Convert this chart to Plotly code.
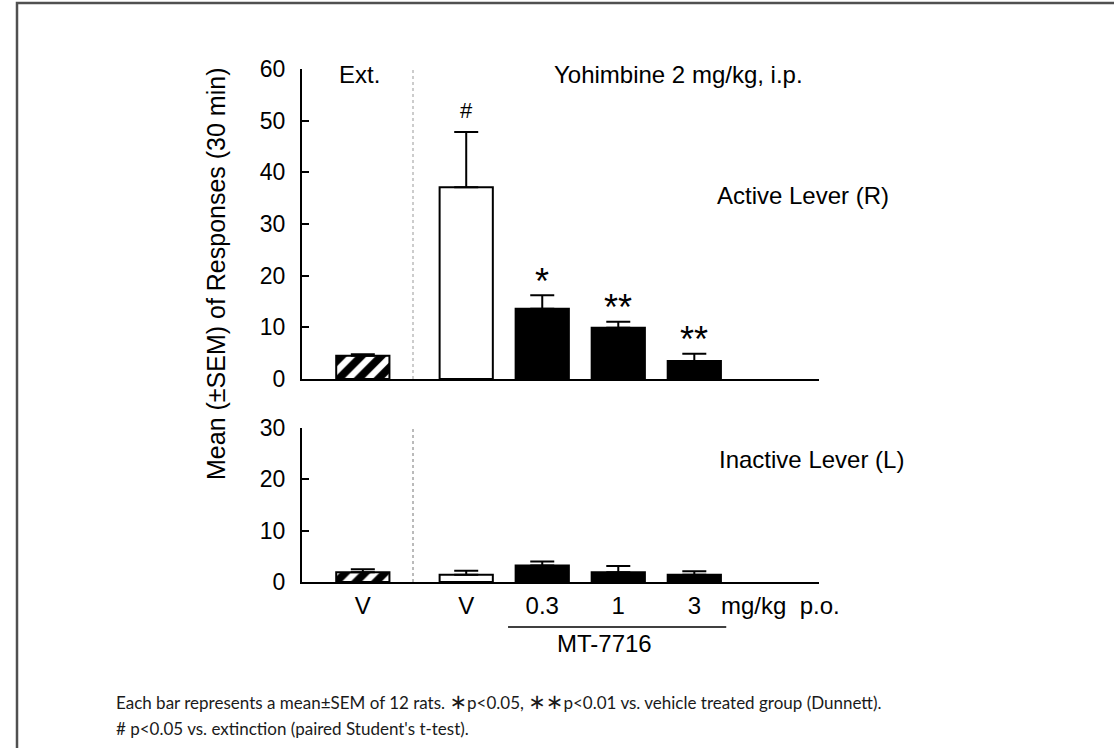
import plotly.graph_objects as go

# ---- data -----------------------------------------------------------------
group_labels = ["V", "V", "0.3", "1", "3"]
active_mean = [4.5, 37.1, 13.6, 9.9, 3.5]
active_sem = [0.3, 10.7, 2.6, 1.2, 1.4]
inactive_mean = [1.9, 1.4, 3.2, 1.9, 1.4]
inactive_sem = [0.6, 0.8, 0.8, 1.2, 0.7]
active_marks = ["", "#", "*", "**", "**"]

# ---- layout helpers --------------------------------------------------------
W, H = 1114, 748
group_x = [0.0, 1.36, 2.36, 3.36, 4.36]   # x position of each bar
BAR_W = 0.70
SEP_X = 0.66                              # dotted line between Ext. and Yohimbine
FONT = "Liberation Sans, Arial, sans-serif"
NOTE_FONT = "Lato, Calibri, sans-serif"


def px(x):
    return x / W


def py(y):
    return 1 - y / H


fig = go.Figure()

panels = [("x", "y", active_mean, active_sem), ("x2", "y2", inactive_mean, inactive_sem)]
for xa, ya, means, sems in panels:
    # Extinction vehicle: hatched bar
    fig.add_trace(go.Bar(
        x=[group_x[0]], y=[means[0]], width=BAR_W, xaxis=xa, yaxis=ya,
        marker=dict(color="black", line=dict(color="black", width=2),
                    pattern=dict(shape="/", bgcolor="black", fgcolor="white",
                                 size=14, solidity=0.45)),
        error_y=dict(type="data", symmetric=False, array=[sems[0]], arrayminus=[0],
                     color="black", thickness=2, width=12),
        showlegend=False, hoverinfo="skip"))
    # Yohimbine vehicle: open bar
    fig.add_trace(go.Bar(
        x=[group_x[1]], y=[means[1]], width=BAR_W, xaxis=xa, yaxis=ya,
        marker=dict(color="white", line=dict(color="black", width=2)),
        error_y=dict(type="data", symmetric=False, array=[sems[1]], arrayminus=[0],
                     color="black", thickness=2, width=12),
        showlegend=False, hoverinfo="skip"))
    # MT-7716 doses: filled bars
    fig.add_trace(go.Bar(
        x=group_x[2:], y=means[2:], width=BAR_W, xaxis=xa, yaxis=ya,
        marker=dict(color="black", line=dict(color="black", width=2)),
        error_y=dict(type="data", symmetric=False, array=sems[2:], arrayminus=[0] * 3,
                     color="black", thickness=2, width=12),
        showlegend=False, hoverinfo="skip"))

annotations = []

# significance marks above the active-lever bars
for xv, m, s, mark in zip(group_x, active_mean, active_sem, active_marks):
    if not mark:
        continue
    if mark == "#":
        annotations.append(dict(x=xv, y=m + s, xref="x", yref="y", text="#",
                                showarrow=False, yanchor="middle", yshift=22,
                                font=dict(size=22, family=FONT, color="black")))
    else:
        annotations.append(dict(x=xv, y=m + s, xref="x", yref="y", text=mark,
                                showarrow=False, yanchor="middle", yshift=14,
                                font=dict(size=36, family=FONT, color="black")))

txt = dict(showarrow=False, xref="paper", yref="paper",
           font=dict(size=24, family=FONT, color="black"))
annotations += [
    dict(text="Ext.", x=px(337), y=py(75), xanchor="left", yanchor="middle", **txt),
    dict(text="Yohimbine 2 mg/kg, i.p.", x=px(552), y=py(75), xanchor="left",
         yanchor="middle", **txt),
    dict(text="Active Lever (R)", x=px(715), y=py(195), xanchor="left",
         yanchor="middle", **txt),
    dict(text="Inactive Lever (L)", x=px(717), y=py(459), xanchor="left",
         yanchor="middle", **txt),
    dict(text="mg/kg\u00a0\u00a0p.o.", x=px(719), y=py(605), xanchor="left",
         yanchor="middle", **txt),
    dict(text="MT-7716", x=px(604), y=py(643), xanchor="center",
         yanchor="middle", **txt),
    dict(text="Mean (\u00b1SEM) of Responses (30 min)", x=px(216), y=py(274),
         xanchor="center", yanchor="middle", textangle=-90, showarrow=False,
         xref="paper", yref="paper",
         font=dict(size=25, family=FONT, color="black")),
]

star = "<span style='font-family:DejaVu Sans; font-size:21px'>\u2217</span>"
note = dict(showarrow=False, xref="paper", yref="paper", xanchor="left",
            yanchor="middle", font=dict(size=17, family=NOTE_FONT, color="#1a1a1a"))
annotations += [
    dict(text="Each bar represents a mean\u00b1SEM of 12 rats. " + star + "p&lt;0.05, "
         + star + star + "p&lt;0.01 vs. vehicle treated group (Dunnett).",
         x=px(114), y=py(702), **note),
    dict(text="# p&lt;0.05 vs. extinction (paired Student's t-test).",
         x=px(114), y=py(728), **note),
]

shapes = [
    # outer frame
    dict(type="rect", xref="paper", yref="paper", x0=px(17), x1=px(1125),
         y0=py(3), y1=py(770), line=dict(color="#505050", width=2.5),
         fillcolor="rgba(0,0,0,0)", layer="below"),
    # dotted separators
    dict(type="line", xref="x", yref="y", x0=SEP_X, x1=SEP_X, y0=0, y1=60,
         line=dict(color="#999999", width=1, dash="dot")),
    dict(type="line", xref="x2", yref="y2", x0=SEP_X, x1=SEP_X, y0=0, y1=30,
         line=dict(color="#777777", width=1, dash="dot")),
    # MT-7716 bracket line
    dict(type="line", xref="x2", yref="paper", x0=1.91, x1=4.78,
         y0=py(627), y1=py(627), line=dict(color="black", width=1.5)),
]

x_dom = [px(302), px(819)]
x_rng = [-0.80, 6.0]
y_common = dict(showline=True, linewidth=2, linecolor="black", ticks="inside",
                ticklen=7, tickwidth=2, tickcolor="black", showgrid=False,
                zeroline=False, ticklabelstandoff=10, automargin=False,
                tickfont=dict(size=23, family=FONT, color="black"))

fig.update_layout(
    template="none",
    width=W, height=H,
    margin=dict(l=0, r=0, t=0, b=0, pad=0, autoexpand=False),
    paper_bgcolor="white", plot_bgcolor="white",
    barmode="overlay", showlegend=False,
    font=dict(family=FONT, color="black"),
    xaxis=dict(domain=x_dom, range=x_rng, anchor="y", showline=True, linewidth=2,
               linecolor="black", showticklabels=False, ticks="", showgrid=False,
               zeroline=False, automargin=False),
    yaxis=dict(domain=[py(379), py(69)], range=[0, 60], anchor="x",
               tickvals=[0, 10, 20, 30, 40, 50, 60], **y_common),
    xaxis2=dict(domain=x_dom, range=x_rng, anchor="y2", showline=True, linewidth=2,
                linecolor="black", ticks="", showgrid=False, zeroline=False,
                tickvals=group_x, ticktext=group_labels, ticklabelstandoff=1,
                automargin=False,
                tickfont=dict(size=24, family=FONT, color="black")),
    yaxis2=dict(domain=[py(582), py(428)], range=[0, 30], anchor="x2",
                tickvals=[0, 10, 20, 30], **y_common),
    annotations=annotations,
    shapes=shapes,
)

fig.write_html("out.html")
